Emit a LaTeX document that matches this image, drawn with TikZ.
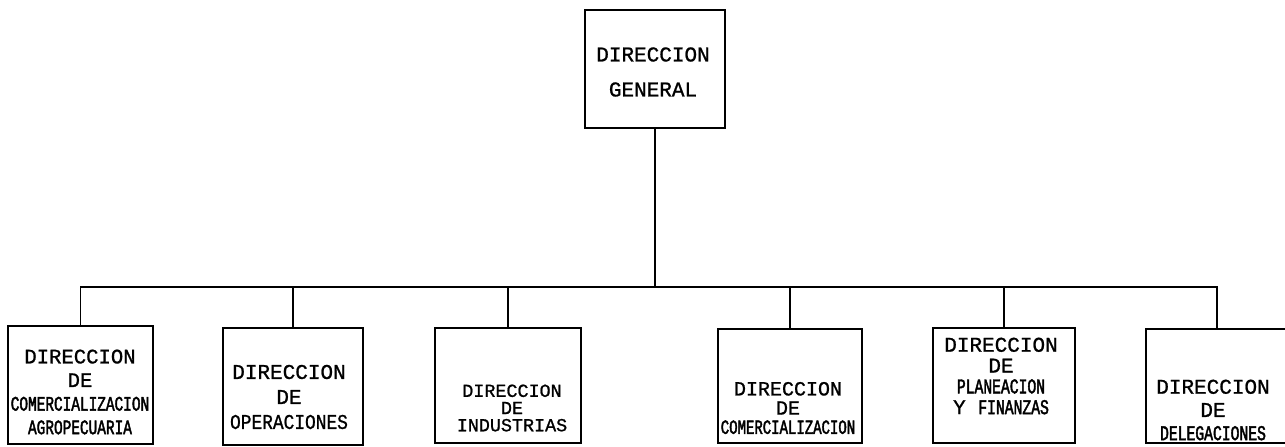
\documentclass[tikz,border=0pt]{standalone}
\usepackage{fontspec}
\newfontfamily\typewr[FakeBold=1]{Liberation Mono}
\newfontfamily\typewrmid[FakeBold=1,FakeStretch=0.85]{Liberation Mono}
\newfontfamily\typewrnarrow[FakeBold=2,FakeStretch=0.7]{Liberation Mono}
\newcommand{\nw}[1]{{\typewrnarrow #1}}
\newcommand{\md}[1]{{\typewrmid #1}}
\tikzset{
  unit/.style={draw,line width=1.2pt,minimum width=#1,inner sep=0pt},
  txt/.style 2 args={align=center,inner sep=0pt,font=\typewr\fontsize{#1}{#2}\selectfont},
  link/.style={line width=0.8pt}
}
\begin{document}
\begin{tikzpicture}[x=0.5pt,y=-0.5pt]
\useasboundingbox (0,0) rectangle (1285,446);
% boxes
\node[unit=70pt,minimum height=59pt] (dg) at(655,69){};
\node[unit=72.5pt,minimum height=59pt] (b1) at(80.5,385){};
\node[unit=70pt,minimum height=58.5pt] (b2) at(293,386.5){};
\node[unit=73pt,minimum height=57.5pt] (b3) at(508,385.5){};
\node[unit=72pt,minimum height=57pt] (b4) at(790,386){};
\node[unit=71pt,minimum height=57.5pt] (b5) at(1004,385.5){};
\node[unit=71pt,minimum height=57pt] (b6) at(1217,386){};
% texts
\node[txt={10.5}{17.5pt}] (tdg) at(653,72){DIRECCION\\GENERAL};
\node[txt={10.3}{11.8pt}] (tb1) at(80,392){DIRECCION\\DE\\\nw{COMERCIALIZACION}\\\nw{AGROPECUARIA}};
\node[txt={10.5}{12.5pt}] (tb2) at(289,397){DIRECCION\\DE\\\md{OPERACIONES}};
\node[txt={9.2}{8.6pt}] (tb3) at(512,408){DIRECCION\\DE\\INDUSTRIAS};
\node[txt={10}{9.6pt}] (tb4) at(788,408){DIRECCION\\DE\\\nw{COMERCIALIZACION}};
\node[txt={10.5}{10.4pt}] (tb5) at(1001,376){DIRECCION\\DE\\\nw{PLANEACION}\\Y \nw{FINANZAS}};
\node[txt={10.5}{11.6pt}] (tb6) at(1213,410){DIRECCION\\DE\\\nw{DELEGACIONES}};
% lines
\coordinate (bus) at(652,287);
\draw[link] (dg.south) -- (dg.south |- bus);
\draw[link] (b1.north) -- (b1.north |- bus) -- (b6.north |- bus) -- (b6.north);
\foreach \n in {b2,b3,b4,b5}
  \draw[link] (bus -| \n.north) -- (\n.north);
\end{tikzpicture}
\end{document}
